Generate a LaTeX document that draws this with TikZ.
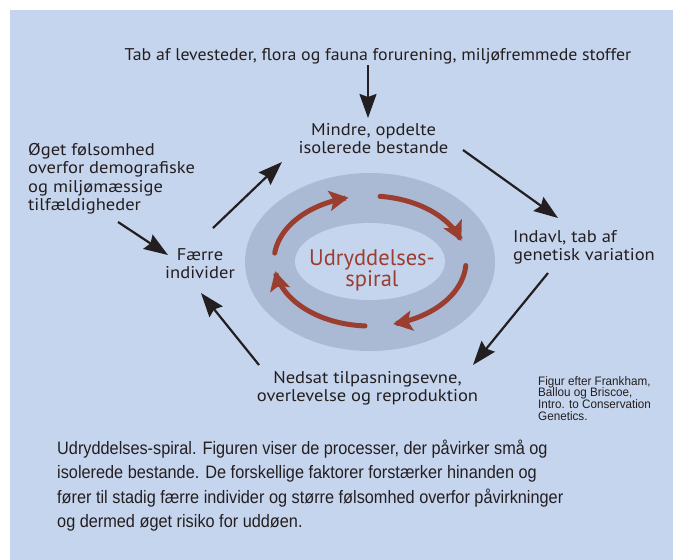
\documentclass[tikz,border=0pt]{standalone}
\usepackage{fontspec}
\setmainfont[FakeStretch=1.09]{PT Sans}
\newfontfamily\topfont[FakeStretch=1.05]{PT Sans}
\newfontfamily\spiralfont{PT Sans}
\newfontfamily\capfont[FakeStretch=0.905]{Liberation Sans}
\newfontfamily\citefont[FakeStretch=0.95]{Liberation Sans}
\usetikzlibrary{arrows.meta}
\definecolor{panel}{HTML}{C6D5EE}
\definecolor{ring}{HTML}{AABAD4}
\definecolor{spiralred}{HTML}{9B3D2F}
\definecolor{ink}{HTML}{231F20}
\newcommand\mlc[1]{\vtop{\let\\\cr\lineskiplimit=-30pt\lineskip=0pt\halign{\hfil##\hfil\cr#1\crcr}}}
\newcommand\mll[1]{\vtop{\let\\\cr\lineskiplimit=-30pt\lineskip=0pt\halign{##\hfil\cr#1\crcr}}}
\begin{document}
\begin{tikzpicture}[x=1pt,y=-1pt,
  lbl/.style={inner sep=0pt, text=ink, font=\fontsize{17}{18.5}\selectfont},
  arr/.style={draw=ink, line width=2.2pt, -{Stealth[length=24pt,width=17pt,inset=3pt]}},
  spir/.style={draw=spiralred, line width=5pt, line cap=round, -{Stealth[length=19pt,width=20pt,inset=4pt]}}]
\useasboundingbox (0,0) rectangle (673,560);
\fill[white] (0,0) rectangle (673,560);
\fill[panel] (10,10) rectangle (673,560);
% ring
\fill[ring] (370,262) ellipse [x radius=125pt, y radius=89pt];
\fill[panel] (370,261.5) ellipse [x radius=75pt, y radius=38.5pt];
% spiral arrows
\draw[spir] plot[domain=173:103, samples=40] ({370+96*cos(\x)}, {261-65*sin(\x)});
\draw[spir] plot[domain=84:18, samples=40] ({370+96*cos(\x)}, {261-65*sin(\x)});
\draw[spir] plot[domain=356:284, samples=40] ({370+96*cos(\x)}, {261-65*sin(\x)});
\draw[spir] plot[domain=267:189, samples=40] ({370+96*cos(\x)}, {261-65*sin(\x)});
\node[inner sep=0pt, text=spiralred, font=\spiralfont\fontsize{22.5}{21.5}\selectfont, anchor=base] (spiral) at (372,265) {\mlc{Udryddelses-\\spiral}};
% labels
\node[lbl, font=\topfont\fontsize{17}{18.5}\selectfont, anchor=base] (top) at (378,60) {Tab af levesteder, flora og fauna forurening, miljøfremmede stoffer};
\node[lbl, anchor=base] (mindre) at (373.5,135) {\mlc{Mindre, opdelte\\isolerede bestande}};
\node[lbl, anchor=base west] (indavl) at (513,242) {\mll{Indavl, tab af\\genetisk variation}};
\node[lbl, anchor=base] (nedsat) at (367.5,383) {\mlc{Nedsat tilpasningsevne,\\overlevelse og reproduktion}};
\node[lbl, anchor=base] (faerre) at (200,260) {\mlc{Færre\\individer}};
\node[lbl, anchor=base west] (oeget) at (28,155) {\mll{Øget følsomhed\\overfor demografiske\\og miljømæssige\\tilfældigheder}};
\node[inner sep=0pt, text=ink, font=\citefont\fontsize{12.3}{11.8}\selectfont, anchor=base west] (cite) at (538,385) {\mll{Figur efter Frankham,\\Ballou og Briscoe,\\Intro. to Conservation\\Genetics.}};
\node[inner sep=0pt, text=ink, font=\capfont\fontsize{18}{24.5}\selectfont, anchor=base west] (caption) at (57,454) {\mll{Udryddelses-spiral. Figuren viser de processer, der påvirker små og\\isolerede bestande. De forskellige faktorer forstærker hinanden og\\fører til stadig færre individer og større følsomhed overfor påvirkninger\\og dermed øget risiko for uddøen.}};
% connector end points
\coordinate (topS) at (368,65);   \coordinate (mindreN) at (368,118);
\coordinate (mindreE) at (463,150); \coordinate (indavlN) at (558,218);
\coordinate (indavlS) at (548,273); \coordinate (nedsatE) at (473,365);
\coordinate (nedsatW) at (259,365); \coordinate (faerreS) at (201,293);
\coordinate (faerreN) at (213,228); \coordinate (mindreW) at (282,162);
\coordinate (oegetS) at (118,222); \coordinate (faerreW) at (168,255);
\draw[arr] (topS) -- (mindreN);
\draw[arr] (mindreE) -- (indavlN);
\draw[arr] (indavlS) -- (nedsatE);
\draw[arr] (nedsatW) -- (faerreS);
\draw[arr] (faerreN) -- (mindreW);
\draw[arr] (oegetS) -- (faerreW);
\end{tikzpicture}
\end{document}
